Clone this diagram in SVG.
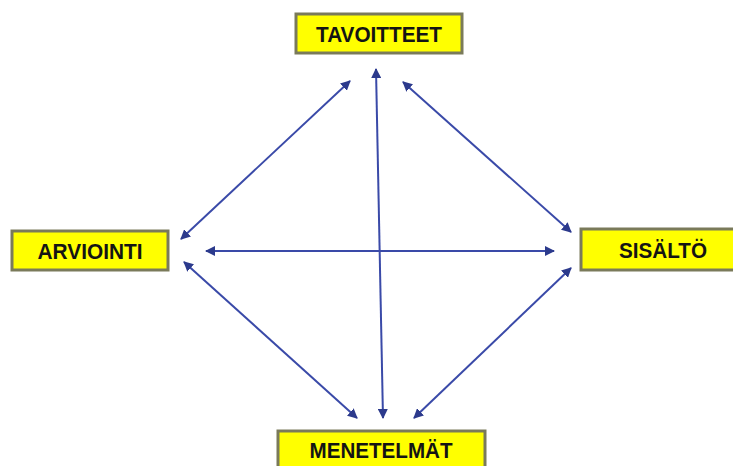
<svg xmlns="http://www.w3.org/2000/svg" width="733" height="466" viewBox="0 0 733 466">
<style>
.box{fill:#ffff00;stroke:#7a7a5a;stroke-width:3}
.lbl{font-family:"Liberation Sans",Arial,sans-serif;font-weight:bold;font-size:22px;fill:#141414;text-anchor:middle}
.con{stroke:#3a4aa8;stroke-width:2;fill:none;marker-end:url(#ah);marker-start:url(#ah)}
</style>
<defs>
<marker id="ah" viewBox="0 0 10 10" refX="9" refY="5" markerWidth="5" markerHeight="5" orient="auto-start-reverse" markerUnits="strokeWidth">
<path d="M0,0 L10,5 L0,10 z" fill="#2c3a8c"/>
</marker>
</defs>
<rect width="733" height="466" fill="#ffffff"/>
<g id="connectors">
<line class="con" x1="181" y1="239" x2="350" y2="81"/>
<line class="con" x1="403" y1="82" x2="571" y2="232"/>
<line class="con" x1="184" y1="262" x2="357" y2="418"/>
<line class="con" x1="571" y1="268" x2="414" y2="418"/>
<line class="con" x1="376" y1="69" x2="383" y2="418"/>
<line class="con" x1="206" y1="251" x2="554" y2="251"/>
</g>
<g id="tavoitteet">
<rect class="box" x="296" y="14" width="166" height="39"/>
<text class="lbl" x="379" y="42" textLength="126" lengthAdjust="spacingAndGlyphs">TAVOITTEET</text>
</g>
<g id="arviointi">
<rect class="box" x="12" y="231" width="156" height="39"/>
<text class="lbl" x="90" y="259" textLength="105" lengthAdjust="spacingAndGlyphs">ARVIOINTI</text>
</g>
<g id="sisalto">
<rect class="box" x="581" y="229" width="160" height="41"/>
<text class="lbl" x="663" y="258" textLength="88" lengthAdjust="spacingAndGlyphs">SISÄLTÖ</text>
</g>
<g id="menetelmat">
<rect class="box" x="278" y="431" width="207" height="40"/>
<text class="lbl" x="381" y="458" textLength="143" lengthAdjust="spacingAndGlyphs">MENETELMÄT</text>
</g>
</svg>
